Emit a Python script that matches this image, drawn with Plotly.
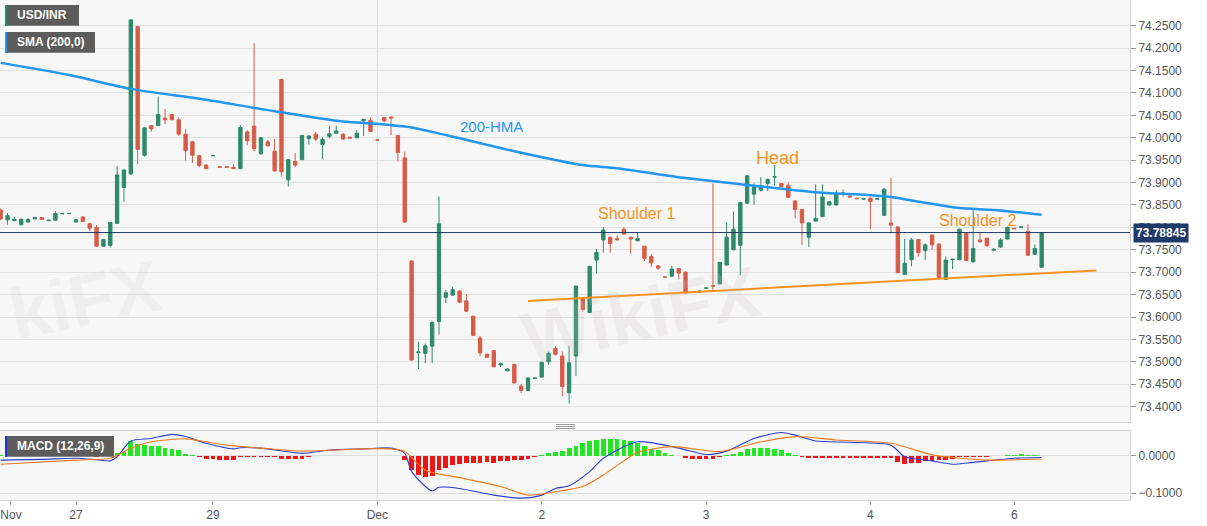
import plotly.graph_objects as go

# ---------------- data (hourly USD/INR candles, index = hour slot) ----------------
opens = [73.839, 73.817, 73.815, 73.806, 73.812, 73.819, 73.822, 73.815, 73.816, 73.830,
         73.831, 73.812, 73.823, 73.808, 73.800, 73.758, 73.760, 73.809, 73.889, 73.919,
         74.248, 73.961, 74.027, 74.027, 74.044, 74.052, 74.040, 74.008, 73.991, 73.960,
         73.939, 73.960, 73.935, 73.935, 73.934, 73.931, 74.013, 74.026, 73.965, 73.991,
         73.970, 74.130, 73.906, 73.947, 73.951, 73.998, 74.008, 73.985, 74.003, 74.010,
         74.008, 74.001, 74.000, 74.038, 74.039, 73.995, 74.045, 74.046, 74.005, 73.955,
         73.725, 73.521, 73.519, 73.535, 73.590, 73.644, 73.649, 73.658, 73.636, 73.602,
         73.553, 73.517, 73.525, 73.493, 73.480, 73.494, 73.446, 73.436, 73.463, 73.466,
         73.500, 73.530, 73.513, 73.431, 73.513, 73.642, 73.610, 73.727, 73.772, 73.778,
         73.775, 73.796, 73.778, 73.770, 73.758, 73.735, 73.714, 73.689, 73.691, 73.708,
         73.700, 73.655, 73.655, 73.664, 73.670, 73.674, 73.716, 73.750, 73.760, 73.854,
         73.874, 73.883, 73.898, 73.912, 73.898, 73.894, 73.859, 73.840, 73.778, 73.814,
         73.824, 73.850, 73.850, 73.877, 73.870, 73.865, 73.863, 73.865, 73.863, 73.827,
         73.810, 73.801, 73.695, 73.728, 73.773, 73.748, 73.783, 73.763, 73.684, 73.728,
         73.728, 73.787, 73.723, 73.772, 73.776, 73.749, 73.756, 73.774, 73.798, 73.800,
         73.791, 73.740, 73.711]
highs = [73.842, 73.832, 73.823, 73.820, 73.820, 73.824, 73.823, 73.816, 73.836, 73.831,
         73.831, 73.818, 73.825, 73.810, 73.805, 73.774, 73.812, 73.936, 73.929, 74.264,
         74.250, 74.024, 74.028, 74.092, 74.064, 74.053, 74.046, 74.019, 73.993, 73.962,
         73.941, 73.961, 73.935, 73.935, 73.941, 74.028, 74.017, 74.211, 74.001, 73.995,
         73.997, 74.131, 73.952, 73.966, 74.006, 74.005, 74.013, 74.001, 74.027, 74.027,
         74.010, 74.002, 74.017, 74.042, 74.046, 73.995, 74.046, 74.048, 74.006, 73.969,
         73.726, 73.545, 73.541, 73.590, 73.869, 73.660, 73.667, 73.659, 73.651, 73.603,
         73.558, 73.518, 73.527, 73.498, 73.485, 73.496, 73.451, 73.465, 73.464, 73.500,
         73.523, 73.535, 73.523, 73.536, 73.670, 73.644, 73.714, 73.751, 73.801, 73.779,
         73.782, 73.801, 73.779, 73.790, 73.759, 73.740, 73.716, 73.689, 73.714, 73.709,
         73.702, 73.656, 73.659, 73.665, 73.898, 73.723, 73.811, 73.835, 73.857, 73.916,
         73.898, 73.912, 73.909, 73.939, 73.899, 73.900, 73.860, 73.841, 73.811, 73.896,
         73.896, 73.858, 73.883, 73.885, 73.872, 73.866, 73.866, 73.867, 73.864, 73.888,
         73.910, 73.802, 73.774, 73.776, 73.774, 73.764, 73.784, 73.764, 73.735, 73.730,
         73.797, 73.789, 73.839, 73.790, 73.777, 73.754, 73.776, 73.802, 73.799, 73.801,
         73.807, 73.762, 73.789]
lows = [73.816, 73.806, 73.814, 73.804, 73.810, 73.818, 73.817, 73.814, 73.815, 73.830,
        73.831, 73.811, 73.812, 73.791, 73.757, 73.756, 73.755, 73.808, 73.857, 73.918,
        73.941, 73.958, 74.014, 74.026, 74.030, 74.039, 74.004, 73.949, 73.944, 73.934,
        73.930, 73.960, 73.934, 73.934, 73.930, 73.930, 73.983, 73.969, 73.961, 73.981,
        73.925, 73.913, 73.891, 73.935, 73.950, 73.985, 73.993, 73.952, 73.999, 74.010,
        73.996, 73.999, 73.999, 74.004, 74.013, 73.995, 74.034, 74.006, 73.947, 73.810,
        73.503, 73.484, 73.497, 73.497, 73.561, 73.631, 73.647, 73.632, 73.612, 73.558,
        73.513, 73.509, 73.488, 73.489, 73.479, 73.452, 73.430, 73.435, 73.463, 73.465,
        73.493, 73.514, 73.423, 73.407, 73.468, 73.612, 73.609, 73.697, 73.744, 73.744,
        73.771, 73.784, 73.741, 73.769, 73.725, 73.712, 73.705, 73.689, 73.690, 73.684,
        73.653, 73.654, 73.654, 73.664, 73.657, 73.673, 73.715, 73.749, 73.693, 73.853,
        73.851, 73.880, 73.881, 73.894, 73.890, 73.866, 73.820, 73.761, 73.756, 73.813,
        73.823, 73.849, 73.849, 73.868, 73.866, 73.864, 73.862, 73.796, 73.863, 73.826,
        73.787, 73.698, 73.694, 73.713, 73.735, 73.727, 73.750, 73.685, 73.683, 73.707,
        73.727, 73.725, 73.722, 73.766, 73.757, 73.747, 73.755, 73.773, 73.797, 73.800,
        73.737, 73.739, 73.710]
last_price = 73.78845
closes = [73.819, 73.826, 73.818, 73.818, 73.818, 73.822, 73.818, 73.816, 73.831, 73.831,
          73.831, 73.817, 73.813, 73.798, 73.758, 73.773, 73.811, 73.917, 73.928, 74.263,
          73.974, 74.022, 74.020, 74.052, 74.040, 74.040, 74.008, 73.971, 73.961, 73.938,
          73.931, 73.960, 73.934, 73.934, 73.931, 74.023, 73.993, 73.976, 74.000, 73.982,
          73.926, 73.924, 73.951, 73.939, 74.005, 74.004, 73.997, 73.996, 74.009, 74.015,
          73.997, 73.999, 74.010, 74.041, 74.014, 73.995, 74.038, 74.044, 73.967, 73.812,
          73.504, 73.522, 73.536, 73.588, 73.808, 73.654, 73.661, 73.633, 73.613, 73.559,
          73.520, 73.510, 73.489, 73.496, 73.484, 73.453, 73.436, 73.464, 73.464, 73.499,
          73.519, 73.517, 73.445, 73.498, 73.669, 73.617, 73.713, 73.744, 73.794, 73.764,
          73.772, 73.785, 73.774, 73.775, 73.731, 73.721, 73.709, 73.689, 73.707, 73.698,
          73.654, 73.655, 73.658, 73.665, 73.669, 73.722, 73.778, 73.796, 73.855, 73.915,
          73.890, 73.893, 73.907, 73.913, 73.891, 73.867, 73.840, 73.810, 73.810, 73.820,
          73.868, 73.857, 73.874, 73.874, 73.868, 73.864, 73.864, 73.858, 73.864, 73.885,
          73.805, 73.699, 73.720, 73.772, 73.744, 73.761, 73.761, 73.686, 73.727, 73.729,
          73.796, 73.726, 73.753, 73.768, 73.759, 73.751, 73.772, 73.800, 73.797, 73.801,
          73.738, 73.753, last_price]

# 200-hour moving average, read at sampled candle indices
hma_idx = [0, 10, 19, 30, 40, 50, 55, 60, 65, 75, 85, 90, 100, 110, 120, 125, 130, 135, 140, 145, 152]
hma_val = [74.167, 74.140, 74.109, 74.085, 74.059, 74.036, 74.031, 74.023, 74.006, 73.970, 73.939,
           73.932, 73.910, 73.893, 73.877, 73.874, 73.868, 73.855, 73.843, 73.839, 73.828]

# neckline of the head-and-shoulders pattern
neck_idx = [77, 160]
neck_val = [73.636, 73.704]

# MACD (12,26,9)
macd_hist = [0.004, 0.003, 0.001, 0.001, 0.001, 0.001, 0.001, 0.001, 0.001, 0.001,
             0.001, 0.001, 0.000, -0.001, -0.002, -0.001, 0.003, 0.008, 0.012, 0.039,
             0.033, 0.030, 0.027, 0.026, 0.022, 0.018, 0.015, 0.006, 0.002, -0.004,
             -0.007, -0.009, -0.010, -0.011, -0.011, -0.004, -0.003, -0.003, -0.003, -0.003,
             -0.004, -0.007, -0.008, -0.008, -0.007, -0.002, 0.001, 0.001, 0.001, 0.001,
             0.001, 0.001, 0.001, 0.001, 0.001, 0.001, 0.001, 0.001, 0.001, -0.012,
             -0.038, -0.052, -0.056, -0.054, -0.038, -0.032, -0.023, -0.021, -0.019, -0.019,
             -0.019, -0.016, -0.018, -0.014, -0.013, -0.011, -0.011, -0.007, -0.004, 0.004,
             0.009, 0.011, 0.013, 0.021, 0.028, 0.034, 0.040, 0.044, 0.046, 0.046,
             0.045, 0.042, 0.040, 0.036, 0.027, 0.020, 0.015, 0.009, 0.004, 0.001,
             -0.005, -0.007, -0.007, -0.007, -0.007, -0.004, 0.003, 0.006, 0.011, 0.020,
             0.021, 0.021, 0.021, 0.020, 0.015, 0.009, 0.004, -0.004, -0.006, -0.006,
             -0.005, -0.005, -0.005, -0.005, -0.005, -0.005, -0.005, -0.005, -0.005, -0.005,
             -0.006, -0.016, -0.021, -0.018, -0.018, -0.014, -0.014, -0.012, -0.012, -0.009,
             -0.004, -0.003, -0.003, -0.003, -0.002, -0.001, 0.001, 0.004, 0.004, 0.006,
             0.003, 0.002, 0.001]
macd_idx = [0, 6, 11, 14, 16, 17, 19, 22, 25, 27, 30, 34, 35, 38, 44, 48, 53, 57, 59, 60, 63, 64,
            67, 72, 76, 79, 81, 83, 86, 88, 93, 99, 103, 106, 110, 114, 116, 119, 124, 130, 132,
            136, 139, 142, 148, 152]
macd_line = [-0.011, -0.009, -0.006, -0.010, -0.013, -0.002, 0.040, 0.047, 0.058, 0.052, 0.034,
             0.019, 0.022, 0.021, 0.007, 0.016, 0.019, 0.021, 0.007, -0.042, -0.094, -0.084,
             -0.087, -0.105, -0.113, -0.105, -0.087, -0.080, -0.042, -0.006, 0.038, 0.021, 0.004,
             0.013, 0.047, 0.063, 0.056, 0.040, 0.037, 0.029, -0.002, -0.013, -0.022, -0.017,
             -0.006, -0.004]
sig_idx = [0, 11, 16, 19, 22, 27, 30, 33, 38, 44, 53, 57, 59, 62, 67, 73, 77, 81, 85, 88, 91, 93,
           98, 105, 111, 116, 122, 130, 136, 139, 144, 152]
sig_line = [-0.022, -0.011, -0.006, 0.021, 0.038, 0.046, 0.038, 0.029, 0.021, 0.013, 0.019, 0.019,
            0.012, -0.038, -0.058, -0.082, -0.105, -0.096, -0.082, -0.051, -0.013, 0.010, 0.025,
            0.012, 0.038, 0.052, 0.043, 0.034, 0.003, -0.004, -0.011, -0.008]

# axis ticks
price_ticks = [round(73.40 + 0.05 * k, 2) for k in range(18)]
macd_ticks = [0.0, -0.1]
day_idx = [1.5, 11, 31, 55, 79, 103, 127, 148]
day_txt = ["Nov", "27", "29", "Dec", "2", "3", "4", "6"]

# ---------------- styling ----------------
GREEN = "#2e8a6a"
RED = "#d75c47"
BLUE = "#2196f3"
ORANGE = "#f7931e"
FONT = "Liberation Sans, Arial, sans-serif"
W, H, ML, MR, MT, MB = 1207, 526, 0, 77, 0, 26
PW, PH = W - ML - MR, H - MT - MB


def px(x):
    return x / PW


def py(y):
    return (PH - y) / PH


x_idx = list(range(len(opens)))

fig = go.Figure()
fig.add_trace(go.Candlestick(
    x=x_idx, open=opens, high=highs, low=lows, close=closes,
    increasing=dict(line=dict(color=GREEN, width=1), fillcolor=GREEN),
    decreasing=dict(line=dict(color=RED, width=1), fillcolor=RED),
    whiskerwidth=0, xaxis="x", yaxis="y", hoverinfo="skip"))
fig.add_trace(go.Scatter(x=hma_idx, y=hma_val, mode="lines",
                         line=dict(color=BLUE, width=2.5, shape="spline", smoothing=0.8),
                         xaxis="x", yaxis="y", hoverinfo="skip"))
fig.add_trace(go.Scatter(x=neck_idx, y=neck_val, mode="lines",
                         line=dict(color=ORANGE, width=2), xaxis="x", yaxis="y", hoverinfo="skip"))

fig.add_trace(go.Bar(x=x_idx, y=macd_hist, width=0.7,
                     marker=dict(color=["#22e622" if v >= 0 else "#f01414" for v in macd_hist],
                                 line=dict(width=0)),
                     xaxis="x2", yaxis="y2", hoverinfo="skip"))
fig.add_trace(go.Scatter(x=macd_idx, y=macd_line, mode="lines",
                         line=dict(color="#2a3fd0", width=1.1, shape="spline", smoothing=0.7),
                         xaxis="x2", yaxis="y2", hoverinfo="skip"))
fig.add_trace(go.Scatter(x=sig_idx, y=sig_line, mode="lines",
                         line=dict(color="#f07a1a", width=1.1, shape="spline", smoothing=0.7),
                         xaxis="x2", yaxis="y2", hoverinfo="skip"))

xr = [-0.1, 164.9]
axis_common = dict(showline=True, linecolor="#d4d4d4", mirror=True, zeroline=False)
fig.update_layout(
    width=W, height=H, margin=dict(l=ML, r=MR, t=MT, b=MB),
    paper_bgcolor="white", plot_bgcolor="#f7f7f7", showlegend=False,
    font=dict(family=FONT, size=12, color="#555"),
    bargap=0, hovermode=False,
    xaxis=dict(domain=[0, 1], range=xr, anchor="y", showticklabels=False, showgrid=False,
               rangeslider=dict(visible=False), **axis_common),
    yaxis=dict(domain=[py(422), 1], range=[73.3658, 74.3073], side="right",
               tickvals=price_ticks, tickformat=".4f", gridcolor="#e2e2e2", gridwidth=1,
               ticks="outside", ticklen=5, tickcolor="#9a9a9a",
               tickfont=dict(size=12, color="#555"), **axis_common),
    xaxis2=dict(domain=[0, 1], range=xr, anchor="y2", tickvals=day_idx, ticktext=day_txt,
                ticks="outside", ticklen=4, tickcolor="#9a9a9a", showgrid=False,
                ticklabeloverflow="allow",
                tickfont=dict(size=12, color="#555"), **axis_common),
    yaxis2=dict(domain=[0, py(431)], range=[-0.118, 0.067], side="right",
                tickvals=macd_ticks, tickformat=".4f", gridcolor="#dedede",
                ticks="outside", ticklen=5, tickcolor="#9a9a9a",
                tickfont=dict(size=12, color="#555"), **axis_common),
)

shapes = []
# month separator
shapes.append(dict(type="line", xref="x", yref="paper", x0=day_idx[3], x1=day_idx[3],
                   y0=py(422), y1=1, line=dict(color="#dcdcdc", width=1), layer="below"))
shapes.append(dict(type="line", xref="x2", yref="paper", x0=day_idx[3], x1=day_idx[3],
                   y0=0, y1=py(431), line=dict(color="#dcdcdc", width=1), layer="below"))
# last price line
shapes.append(dict(type="line", xref="paper", yref="y", x0=0, x1=1, y0=last_price, y1=last_price,
                   line=dict(color="#1f3a68", width=1)))
# legend boxes
for (x0, x1, y0, y1, stripe) in [(5, 79, 5, 25.7, GREEN), (5, 95, 32, 52.7, BLUE),
                                 (5, 114, 436, 456.7, "#2236c8")]:
    shapes.append(dict(type="rect", xref="paper", yref="paper", x0=px(x0), x1=px(x1),
                       y0=py(y1), y1=py(y0), fillcolor="#5c5c5c", line=dict(width=0)))
    shapes.append(dict(type="rect", xref="paper", yref="paper", x0=px(x0), x1=px(x0 + 2),
                       y0=py(y1), y1=py(y0), fillcolor=stripe, line=dict(width=0)))
# pane splitter grip
for k in range(3):
    shapes.append(dict(type="line", xref="paper", yref="paper", x0=px(556), x1=px(575),
                       y0=py(424.5 + 2 * k), y1=py(424.5 + 2 * k),
                       line=dict(color="#9a9a9a", width=1)))
fig.update_layout(shapes=shapes)

ann = []
for txt, yc in [("USD/INR", 15.3), ("SMA (200,0)", 42.3), ("MACD (12,26,9)", 446.3)]:
    ann.append(dict(text="<b>%s</b>" % txt, xref="paper", yref="paper", x=px(15), y=py(yc),
                    xanchor="left", yanchor="middle", showarrow=False,
                    font=dict(size=12, color="white", family=FONT)))
ann.append(dict(text="<b>%.5f</b>" % last_price, xref="paper", yref="y", x=1, y=last_price,
                xanchor="left", yanchor="middle", xshift=3, showarrow=False,
                bgcolor="#1f3a68", borderpad=2, font=dict(size=12, color="white", family=FONT)))
for txt, xi, yv, size, col in [("200-HMA", 71.7, 74.024, 15, BLUE),
                               ("Shoulder 1", 92.8, 73.830, 16, ORANGE),
                               ("Head", 113.4, 73.955, 18, ORANGE),
                               ("Shoulder 2", 142.6, 73.816, 16, ORANGE)]:
    ann.append(dict(text=txt, xref="x", yref="y", x=xi, y=yv, showarrow=False,
                    xanchor="center", yanchor="middle", font=dict(size=size, color=col, family=FONT)))
# faint watermarks
for txt, xp, yp, alpha in [("WikiFX", 640, 315, 0.2), ("kiFX", 0, 300, 0.14)]:
    ann.append(dict(text="<b>%s</b>" % txt, xref="paper", yref="paper", x=px(xp), y=py(yp),
                    xanchor="center" if xp > 0 else "left", yanchor="middle", showarrow=False,
                    textangle=-12, font=dict(size=72, color="rgba(200,190,190,%s)" % alpha, family=FONT)))
fig.update_layout(annotations=ann)

fig.write_html("out.html", config={"displayModeBar": False, "staticPlot": True},
               post_script="document.body.style.margin='0';document.body.style.padding='0';"
                           "document.body.style.overflow='hidden';")
